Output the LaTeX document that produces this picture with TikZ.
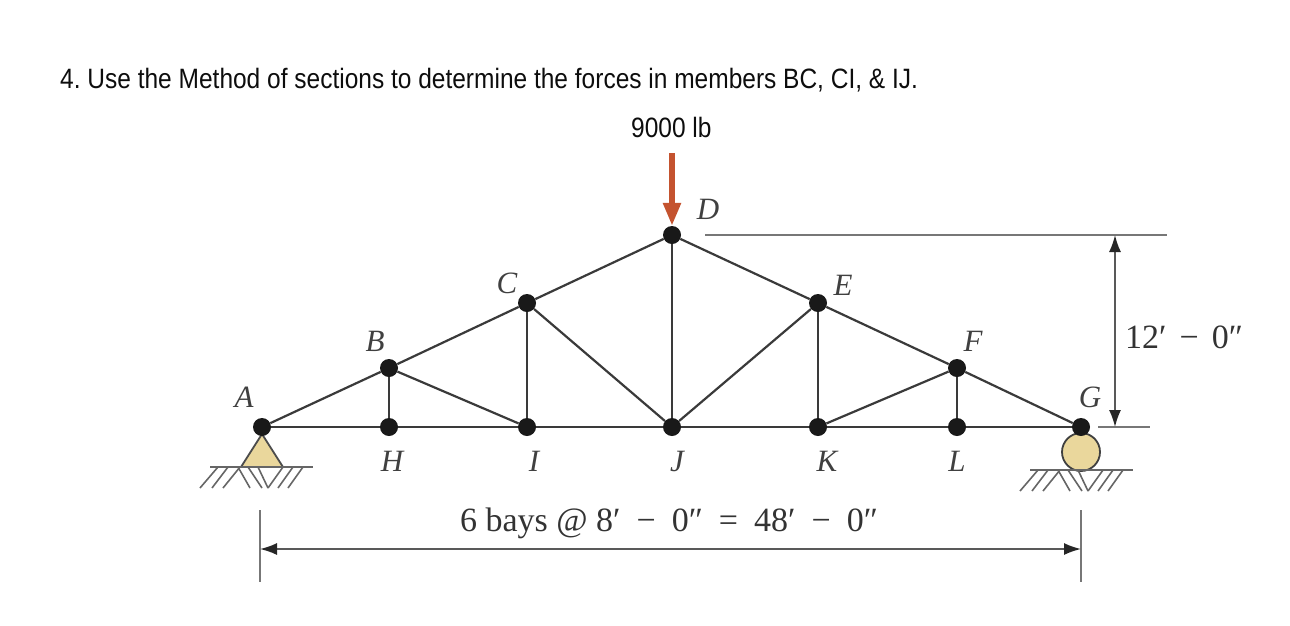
\documentclass[tikz,border=0pt]{standalone}
\usepackage{fontspec}
\setmainfont{Liberation Serif}
\newfontfamily\sansf[FakeStretch=0.875]{Liberation Sans}
\usetikzlibrary{arrows.meta}
\definecolor{tan}{HTML}{EAD79C}
\definecolor{force}{HTML}{C4532F}
\definecolor{ink}{HTML}{3A3A3A}
\definecolor{dimc}{HTML}{777777}
\newcommand{\wsp}{\hspace{7.5pt}}
\tikzset{
  joint/.style={circle,fill=black!90,inner sep=0pt,minimum size=18pt},
  member/.style={draw=ink,line width=2.2pt},
  hatchline/.style={draw=black!60,line width=1.6pt},
  dimline/.style={draw=dimc,line width=1.6pt},
  dimarrow/.style={draw=black!65,line width=1.7pt,{Latex[length=17pt,width=12pt,black!85]}-{Latex[length=17pt,width=12pt,black!85]}},
  lab/.style={font=\fontsize{31}{31}\selectfont\itshape,text=black!75,inner sep=0pt},
  dimtext/.style={font=\fontsize{34}{34}\selectfont,text=black!80,inner sep=0pt},
  sanstext/.style={font=\sansf\fontsize{28}{28}\selectfont\frenchspacing,text=black!95,inner sep=0pt,anchor=west}
}
\begin{document}
\begin{tikzpicture}[x=1pt,y=-1pt]
\useasboundingbox (0,0) rectangle (1290,625);
% supports (behind joints)
\node[draw=black!75,fill=tan,line width=1.8pt,circle,inner sep=0pt,minimum size=38pt] (roller) at (1081,452) {};
\coordinate (ta) at (262,434);
\coordinate (tl) at (241,467);
\coordinate (tr) at (283,467);
\draw[fill=tan,draw=black!70,line width=1.8pt,line join=round] (ta) -- (tl) -- (tr) -- cycle;
% grounds
\foreach \ox/\oy in {0/0,820/3}{
 \begin{scope}[shift={(\ox,\oy)}]
 \draw[hatchline] (210,467) -- (313,467);
 \foreach \a/\b in {218/200,228/212,240/223,268/283,278/293,288/303}{
   \ifnum\a<250 \draw[hatchline] (\a,467) -- (\b,488);\else \draw[hatchline] (\b,467) -- (\a,488);\fi}
 \draw[hatchline] (238,467) -- (250,488);
 \draw[hatchline] (248,467) -- (262,488);
 \draw[hatchline] (258,467) -- (268,488);
 \end{scope}}
% joints
\node[joint] (A) at (262,427) {};
\node[joint] (B) at (389,368) {};
\node[joint] (C) at (527,303) {};
\node[joint] (D) at (672,235) {};
\node[joint] (E) at (818,303) {};
\node[joint] (F) at (957,368) {};
\node[joint] (G) at (1081,427) {};
\node[joint] (H) at (389,427) {};
\node[joint] (I) at (527,427) {};
\node[joint] (J) at (672,427) {};
\node[joint] (K) at (818,427) {};
\node[joint] (L) at (957,427) {};
% members
\draw[member] (A) -- (B);
\draw[member] (B) -- (C);
\draw[member] (C) -- (D);
\draw[member] (D) -- (E);
\draw[member] (E) -- (F);
\draw[member] (F) -- (G);
\draw[member] (A) -- (H);
\draw[member] (H) -- (I);
\draw[member] (I) -- (J);
\draw[member] (J) -- (K);
\draw[member] (K) -- (L);
\draw[member] (L) -- (G);
\draw[member] (B) -- (H);
\draw[member] (B) -- (I);
\draw[member] (C) -- (I);
\draw[member] (C) -- (J);
\draw[member] (D) -- (J);
\draw[member] (E) -- (J);
\draw[member] (E) -- (K);
\draw[member] (F) -- (K);
\draw[member] (F) -- (L);
% load
\coordinate (loadtop) at (672,153);
\draw[force,line width=5.5pt,-{Triangle[length=23pt,width=17pt,force]}] (loadtop) -- (D.north);
% dimensions
\coordinate (d1) at (705,235);
\coordinate (d2) at (1167,235);
\coordinate (d3) at (1098,427);
\coordinate (d4) at (1150,427);
\coordinate (v1) at (1115,235);
\coordinate (v2) at (1115,427);
\draw[dimline] (d1) -- (d2);
\draw[dimline] (d3) -- (d4);
\draw[dimarrow] (v1) -- (v2);
\coordinate (t1) at (260,510);
\coordinate (t2) at (260,582);
\coordinate (t3) at (1081,510);
\coordinate (t4) at (1081,582);
\coordinate (h1) at (260,549);
\coordinate (h2) at (1081,549);
\draw[dimline] (t1) -- (t2);
\draw[dimline] (t3) -- (t4);
\draw[dimarrow] (h1) -- (h2);
% labels
\node[lab] (la) at (244,397) {A};
\node[lab] (lb) at (375,341) {B};
\node[lab] (lc) at (507,283) {C};
\node[lab] (ld) at (708,209) {D};
\node[lab] (le) at (843,285) {E};
\node[lab] (lf) at (973,341) {F};
\node[lab] (lg) at (1090,397) {G};
\node[lab] (lh) at (392,461) {H};
\node[lab] (li) at (534,461) {I};
\node[lab] (lj) at (677,461) {J};
\node[lab] (lk) at (827,461) {K};
\node[lab] (ll) at (957,461) {L};
\node[dimtext] (span) at (669,523) {6 bays @ 8′\wsp{} − \wsp{}0″\wsp{} = \wsp{}48′\wsp{} − \wsp{}0″};
\node[dimtext,anchor=west] (rise) at (1125,337) {12′\hspace{4.5pt} − \hspace{4.5pt}0″};
\node[sanstext] (title) at (60,80) {4. Use the Method of sections to determine the forces in members BC, CI, \& IJ.};
\node[sanstext] (force) at (631,127) {9000 lb};
\end{tikzpicture}
\end{document}
